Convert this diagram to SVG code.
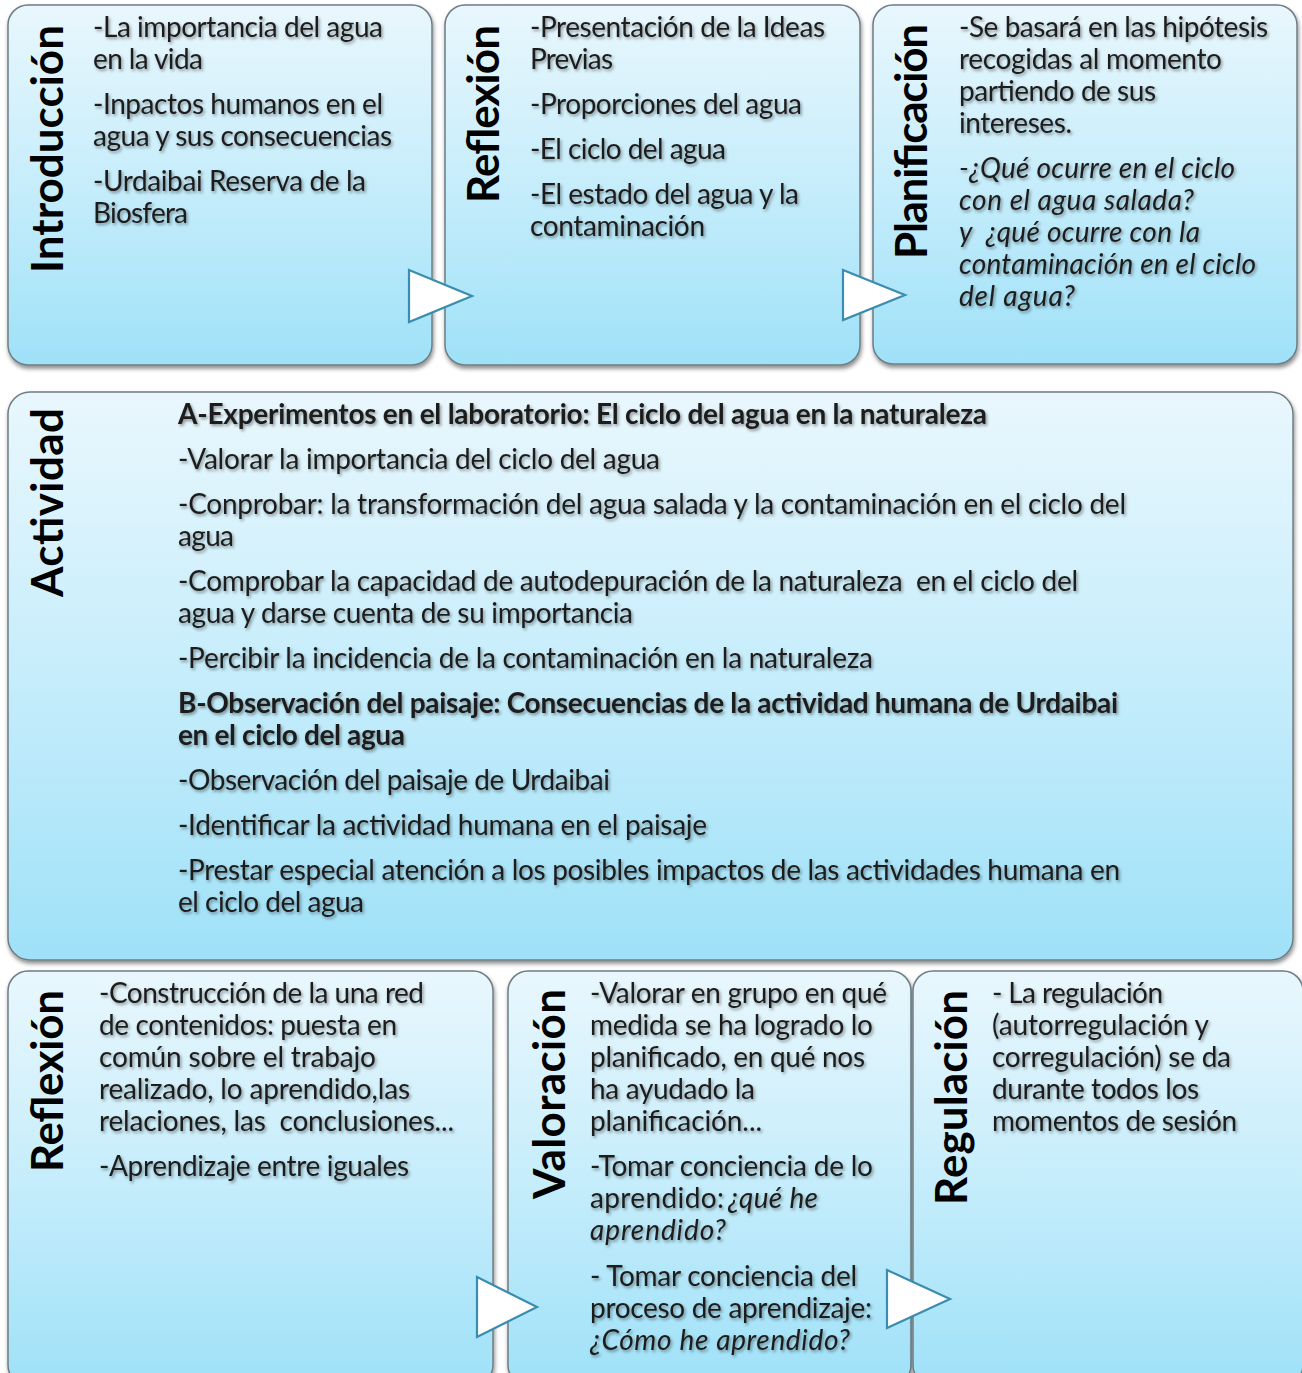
<svg xmlns="http://www.w3.org/2000/svg" width="1302" height="1373" viewBox="0 0 1302 1373">
<defs>
<linearGradient id="pg" x1="0" y1="0" x2="0" y2="1">
<stop offset="0" stop-color="#e9f7fd"/>
<stop offset="0.5" stop-color="#c6edfb"/>
<stop offset="1" stop-color="#9fe1f8"/>
</linearGradient>
<filter id="ps" x="-5%" y="-5%" width="110%" height="115%">
<feDropShadow dx="1" dy="3" stdDeviation="2.2" flood-color="#000" flood-opacity="0.45"/>
</filter>
<filter id="ts" x="-5%" y="-30%" width="110%" height="170%">
<feDropShadow dx="1.5" dy="2" stdDeviation="1.7" flood-color="#000" flood-opacity="0.4"/>
</filter>
<style>
.panel{fill:url(#pg);stroke:#6e7d84;stroke-width:1.5;filter:url(#ps)}
.t{font-family:Lato,"Open Sans",sans-serif;font-weight:bold;font-size:44px;fill:#000}
.x{font-family:Lato,"Open Sans",sans-serif;font-size:28px;fill:#1e1e1e}
.xb{font-weight:bold}
.xi{font-style:italic}
.arrow{fill:#fff;stroke:#3b8db0;stroke-width:2.2;stroke-linejoin:miter}
</style>
</defs>
<rect width="1302" height="1373" fill="#ffffff"/>

<g id="introduccion">
<rect class="panel" x="8" y="5" width="424" height="360" rx="20"/>
<text class="t" transform="translate(63,273) rotate(-90)" textLength="248">Introducción</text>
<g filter="url(#ts)">
<text class="x" x="93" y="37" textLength="290">-La importancia del agua</text>
<text class="x" x="93" y="69" textLength="110">en la vida</text>
<text class="x" x="93" y="114" textLength="290">-Inpactos humanos en el</text>
<text class="x" x="93" y="146" textLength="299">agua y sus consecuencias</text>
<text class="x" x="93" y="191" textLength="273">-Urdaibai Reserva de la</text>
<text class="x" x="93" y="223" textLength="95">Biosfera</text>
</g>
</g>

<g id="reflexion1">
<rect class="panel" x="445" y="5" width="415" height="360" rx="20"/>
<text class="t" transform="translate(499,203) rotate(-90)" textLength="178">Reflexión</text>
<g filter="url(#ts)">
<text class="x" x="530" y="37" textLength="295">-Presentación de la Ideas</text>
<text class="x" x="530" y="69" textLength="83">Previas</text>
<text class="x" x="530" y="114" textLength="272">-Proporciones del agua</text>
<text class="x" x="530" y="159" textLength="196">-El ciclo del agua</text>
<text class="x" x="530" y="204" textLength="269">-El estado del agua y la</text>
<text class="x" x="530" y="236" textLength="175">contaminación</text>
</g>
</g>

<g id="planificacion">
<rect class="panel" x="873" y="5" width="424" height="359" rx="20"/>
<text class="t" transform="translate(927,259) rotate(-90)" textLength="235">Planificación</text>
<g filter="url(#ts)">
<text class="x" x="959" y="37" textLength="309">-Se basará en las hipótesis</text>
<text class="x" x="959" y="69" textLength="263">recogidas al momento</text>
<text class="x" x="959" y="101" textLength="197">partiendo de sus</text>
<text class="x" x="959" y="133" textLength="113">intereses.</text>
<text class="x xi" x="959" y="178" textLength="276">-¿Qué ocurre en el ciclo</text>
<text class="x xi" x="959" y="210" textLength="235">con el agua salada?</text>
<text class="x xi" x="959" y="242" textLength="241" xml:space="preserve">y  ¿qué ocurre con la</text>
<text class="x xi" x="959" y="274" textLength="297">contaminación en el ciclo</text>
<text class="x xi" x="959" y="306" textLength="116">del agua?</text>
</g>
</g>

<g id="actividad">
<rect class="panel" x="8" y="392" width="1285" height="568" rx="22"/>
<text class="t" transform="translate(63,597) rotate(-90)" textLength="189">Actividad</text>
<g filter="url(#ts)">
<text class="x xb" x="178" y="424" textLength="809">A-Experimentos en el laboratorio: El ciclo del agua en la naturaleza</text>
<text class="x" x="178" y="469" textLength="482">-Valorar la importancia del ciclo del agua</text>
<text class="x" x="178" y="514" textLength="948">-Conprobar: la transformación del agua salada y la contaminación en el ciclo del</text>
<text class="x" x="178" y="546" textLength="56">agua</text>
<text class="x" x="178" y="591" textLength="900" xml:space="preserve">-Comprobar la capacidad de autodepuración de la naturaleza  en el ciclo del</text>
<text class="x" x="178" y="623" textLength="455">agua y darse cuenta de su importancia</text>
<text class="x" x="178" y="668" textLength="695">-Percibir la incidencia de la contaminación en la naturaleza</text>
<text class="x xb" x="178" y="713" textLength="940">B-Observación del paisaje: Consecuencias de la actividad humana de Urdaibai</text>
<text class="x xb" x="178" y="745" textLength="227">en el ciclo del agua</text>
<text class="x" x="178" y="790" textLength="432">-Observación del paisaje de Urdaibai</text>
<text class="x" x="178" y="835" textLength="529">-Identificar la actividad humana en el paisaje</text>
<text class="x" x="178" y="880" textLength="942">-Prestar especial atención a los posibles impactos de las actividades humana en</text>
<text class="x" x="178" y="912" textLength="186">el ciclo del agua</text>
</g>
</g>

<g id="reflexion2">
<rect class="panel" x="8" y="971" width="485" height="414" rx="20"/>
<text class="t" transform="translate(63,1172) rotate(-90)" textLength="182">Reflexión</text>
<g filter="url(#ts)">
<text class="x" x="99" y="1003" textLength="325">-Construcción de la una red</text>
<text class="x" x="99" y="1035" textLength="298">de contenidos: puesta en</text>
<text class="x" x="99" y="1067" textLength="277">común sobre el trabajo</text>
<text class="x" x="99" y="1099" textLength="311">realizado, lo aprendido,las</text>
<text class="x" x="99" y="1131" textLength="355" xml:space="preserve">relaciones, las  conclusiones...</text>
<text class="x" x="99" y="1176" textLength="310">-Aprendizaje entre iguales</text>
</g>
</g>

<g id="valoracion">
<rect class="panel" x="508" y="971" width="403" height="414" rx="20"/>
<text class="t" transform="translate(565,1199) rotate(-90)" textLength="210">Valoración</text>
<g filter="url(#ts)">
<text class="x" x="590" y="1003" textLength="297">-Valorar en grupo en qué</text>
<text class="x" x="590" y="1035" textLength="283">medida se ha logrado lo</text>
<text class="x" x="590" y="1067" textLength="275">planificado, en qué nos</text>
<text class="x" x="590" y="1099" textLength="165">ha ayudado la</text>
<text class="x" x="590" y="1131" textLength="172">planificación...</text>
<text class="x" x="590" y="1176" textLength="283">-Tomar conciencia de lo</text>
<text class="x" x="590" y="1208" textLength="134">aprendido:</text>
<text class="x xi" x="728" y="1208" textLength="90">¿qué he</text>
<text class="x xi" x="590" y="1240" textLength="136">aprendido?</text>
<text class="x" x="590" y="1286" textLength="267">- Tomar conciencia del</text>
<text class="x" x="590" y="1318" textLength="282">proceso de aprendizaje:</text>
<text class="x xi" x="590" y="1350" textLength="260">¿Cómo he aprendido?</text>
</g>
</g>

<g id="regulacion">
<rect class="panel" x="913" y="971" width="390" height="414" rx="20"/>
<text class="t" transform="translate(967,1205) rotate(-90)" textLength="215">Regulación</text>
<g filter="url(#ts)">
<text class="x" x="992" y="1003" textLength="171">- La regulación</text>
<text class="x" x="992" y="1035" textLength="217">(autorregulación y</text>
<text class="x" x="992" y="1067" textLength="239">corregulación) se da</text>
<text class="x" x="992" y="1099" textLength="207">durante todos los</text>
<text class="x" x="992" y="1131" textLength="245">momentos de sesión</text>
</g>
</g>

<g id="connectors">
<polygon class="arrow" points="409,270 472,296 409,322"/>
<polygon class="arrow" points="843,270 905,295 843,320"/>
<polygon class="arrow" points="477,1277 537,1307 477,1337"/>
<polygon class="arrow" points="887,1270 950,1299 887,1328"/>
</g>
</svg>
